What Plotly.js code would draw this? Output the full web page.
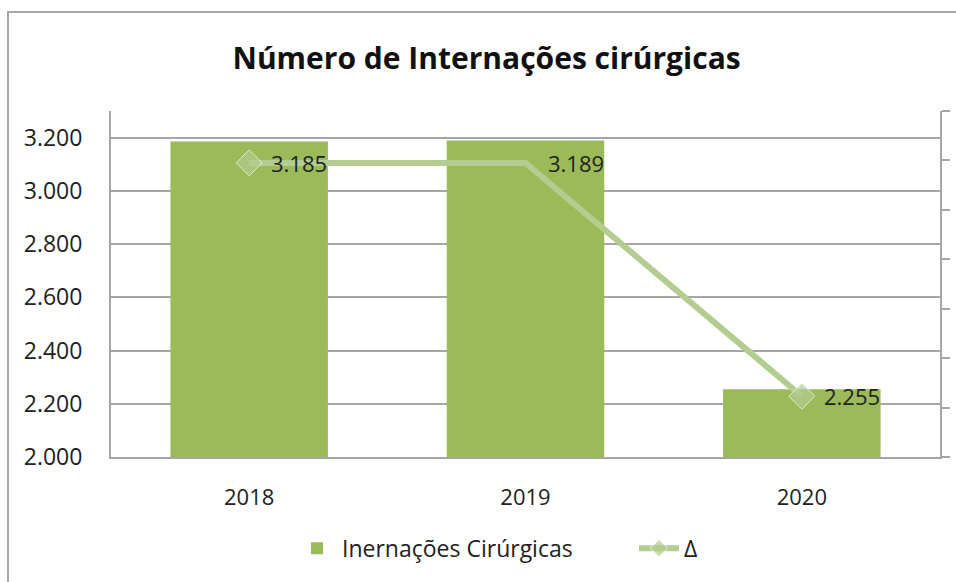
<!DOCTYPE html>
<html>
<head>
<meta charset="utf-8">
<script src="https://cdn.plot.ly/plotly-3.0.1.min.js"></script>
<style>
html,body{margin:0;padding:0;background:#fff;}
#wrap{position:relative;width:956px;height:582px;overflow:hidden;}
#frame{position:absolute;left:7px;top:11px;width:1000px;height:700px;border-left:2px solid #a6a6a6;border-top:2px solid #a6a6a6;pointer-events:none;}
#chart{position:absolute;left:0;top:0;width:956px;height:582px;}
</style>
</head>
<body>
<div id="wrap"><div id="chart"></div><div id="frame"></div></div>
<script>
const years = ['2018', '2019', '2020'];
const internacoes = [3185, 3189, 2255];
const delta = [5.95, 5.95, 1.23];
const yTicks = [2000, 2200, 2400, 2600, 2800, 3000, 3200];

function fmt(v){ return String(v).replace(/\B(?=(\d{3})+(?!\d))/g, '.'); }

const barColor = '#9bbb59';
const lineColor = '#b3cc8f';
const gridColor = '#a6a6a6';
const font = 'Open Sans, Liberation Sans, sans-serif';

const traces = [
  {
    type: 'bar', name: 'Inernações Cirúrgicas', x: years, y: internacoes,
    marker: {color: barColor}, yaxis: 'y', hoverinfo: 'skip'
  },
  {
    type: 'scatter', mode: 'lines+markers', name: 'Δ', x: years, y: delta, yaxis: 'y2',
    line: {color: lineColor, width: 6},
    marker: {symbol: 'diamond', size: [20, 0, 20], color: lineColor},
    hoverinfo: 'skip'
  }
];

const annotations = years.map((yr, i) => ({
  x: i, y: delta[i], xref: 'x', yref: 'y2', text: fmt(internacoes[i]),
  showarrow: false, xanchor: 'left', yanchor: 'middle', xshift: 20, yshift: 0,
  font: {family: font, size: 22, color: '#222'}
}));

const layout = {
  width: 956, height: 582,
  margin: {l: 111, r: 16, t: 111, b: 125},
  paper_bgcolor: '#fff', plot_bgcolor: '#fff',
  separators: ',.',
  title: {
    text: '<b>Número de Internações cirúrgicas</b>',
    font: {family: font, size: 30, color: '#111'},
    xref: 'container', x: 0.509, xanchor: 'center',
    yref: 'container', y: 0.9, yanchor: 'middle'
  },
  bargap: 0.43,
  showlegend: true,
  legend: {
    orientation: 'h', xref: 'container', yref: 'container',
    x: 292 / 956, xanchor: 'left', y: 0.058, yanchor: 'middle',
    font: {family: font, size: 23, color: '#222'},
    itemwidth: 40, entrywidth: 287, entrywidthmode: 'pixels'
  },
  xaxis: {
    type: 'category', range: [-0.5, 2.5], autorange: false,
    showgrid: false, showline: true, linecolor: gridColor, linewidth: 2,
    ticks: '', ticklabelstandoff: 20,
    tickfont: {family: font, size: 22, color: '#222'}
  },
  yaxis: {
    range: [2000, 3300], autorange: false, tickvals: yTicks, ticktext: yTicks.map(fmt),
    showgrid: true, gridcolor: gridColor, gridwidth: 2,
    showline: true, linecolor: gridColor, linewidth: 2,
    zeroline: false, ticks: '', ticklabelstandoff: 22,
    tickfont: {family: font, size: 23, color: '#222'}
  },
  yaxis2: {
    overlaying: 'y', side: 'right', range: [0, 7], autorange: false, dtick: 1,
    showgrid: false, showline: true, linecolor: gridColor, linewidth: 2,
    ticks: 'outside', ticklen: 8, tickwidth: 2, tickcolor: gridColor,
    showticklabels: false, zeroline: false
  },
  annotations: annotations
};

Plotly.newPlot('chart', traces, layout, {displayModeBar: false, staticPlot: true});
</script>
</body>
</html>
